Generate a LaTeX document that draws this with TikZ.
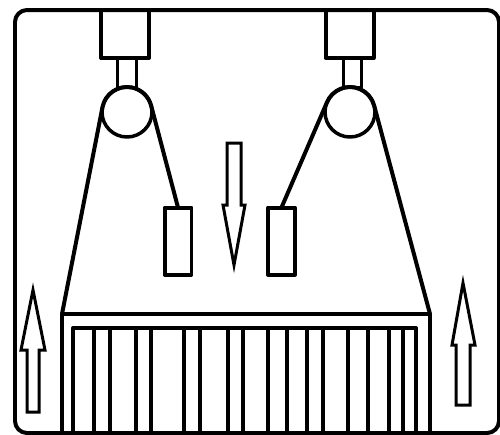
\documentclass[tikz,border=0pt]{standalone}
\tikzset{
  part/.style={draw, line width=0.08cm, inner sep=0pt, outer sep=0pt},
  motor/.style={part, rectangle, minimum width=0.96cm, minimum height=0.96cm},
  pulley/.style={part, circle, line width=0.07cm, minimum size=1cm},
  weight/.style={part, rectangle, minimum width=0.54cm, minimum height=1.34cm},
  rope/.style={line width=0.08cm},
  flow/.style={line width=0.06cm, line join=miter},
}
\begin{document}
\begin{tikzpicture}[x=0.02cm, y=-0.02cm, line join=round]
	\useasboundingbox (0,0) rectangle (500,434);
	\clip (0,0) rectangle (500,434);
	% housing
	\draw[line width=0.08cm, rounded corners=0.24cm] (15,10) rectangle (499,433);
	% drives, shafts and pulleys
	\node[motor] (motorL) at (125,34) {};
	\node[motor] (motorR) at (349.5,34) {};
	\draw[line width=0.06cm] (117,58) rectangle (136,87);
	\draw[line width=0.06cm] (343,58) rectangle (361,87);
	\node[pulley] (pulleyL) at (127,112) {};
	\node[pulley] (pulleyR) at (350,112) {};
	% counterweights
	\node[weight] (weightL) at (178,241) {};
	\node[weight] (weightR) at (281.5,241) {};
	% comb with plates
	\coordinate (combNW) at (62,314);
	\coordinate (combNE) at (430,314);
	\draw[part] (62,440) -- (combNW) -- (combNE) -- (430,440);
	\draw[part] (73,440) -- (73,328) -- (416,328) -- (416,440);
	\foreach \x in {94,110,136,151,184,200,228,243,268,287,307,323,348,368,389,403}
		\draw[line width=0.08cm] (\x,328) -- (\x,440);
	% ropes over the pulleys
	\draw[rope] (combNW) -- (pulleyL.169) arc[start angle=169, end angle=13, radius=0.5cm] -- (weightL.north);
	\draw[rope] (weightR.north) -- (pulleyR.157) arc[start angle=157, end angle=15, radius=0.5cm] -- (combNE);
	% motion arrows
	\draw[flow] (227,143) -- (241,143) -- (241,205) -- (245,205) -- (234,265) -- (223,205) -- (227,205) -- cycle;
	\draw[flow] (27,412) -- (39,412) -- (39,350) -- (45,350) -- (33,290) -- (21,350) -- (27,350) -- cycle;
	\draw[flow] (456,405) -- (470,405) -- (470,345) -- (475,345) -- (463,283) -- (452,345) -- (456,345) -- cycle;
\end{tikzpicture}
\end{document}
